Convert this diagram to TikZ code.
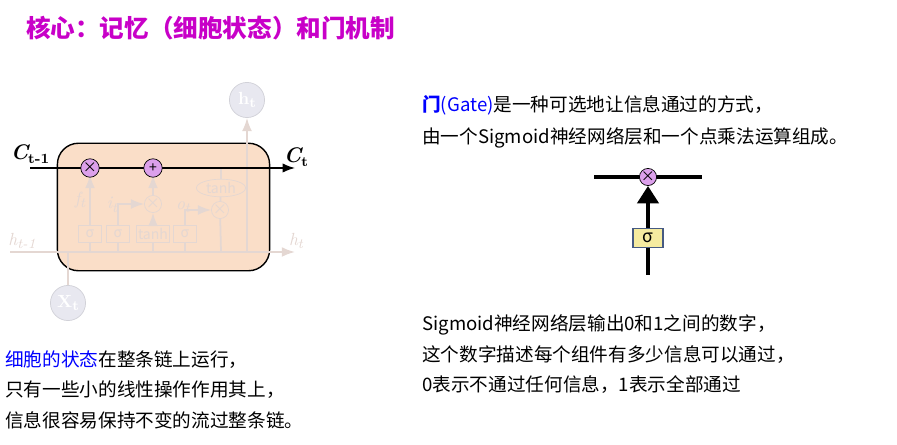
\documentclass[tikz,border=0pt]{standalone}
\usepackage{fontspec}
\setmainfont{Noto Sans CJK SC}
\newfontfamily\lm{Latin Modern Roman}
\usetikzlibrary{arrows.meta,shapes.geometric}
\newcommand{\mysub}[1]{\raisebox{-0.45ex}{\footnotesize #1}}
\definecolor{cellfill}{RGB}{250,222,200}
\definecolor{faint}{RGB}{232,232,240}
\definecolor{faintline}{RGB}{228,215,210}
\definecolor{op}{RGB}{220,160,235}
\definecolor{gatebox}{RGB}{245,235,160}
\definecolor{boxedge}{RGB}{70,90,130}
\definecolor{ttl}{RGB}{200,0,200}
\tikzset{
 txt/.style={anchor=west,inner sep=0pt,font=\fontsize{10.6}{12}\selectfont},
 opc/.style={circle,draw,fill=op,minimum size=10.5pt,inner sep=0pt,font=\fontsize{8}{8}\selectfont},
 faintop/.style={circle,draw=faintline,minimum size=9pt,inner sep=0pt,text=faintline,font=\fontsize{8}{8}\selectfont},
 faintbox/.style={draw=faintline,minimum width=13pt,minimum height=10pt,inner sep=1pt,text=faintline,font=\fontsize{8}{8}\selectfont},
 fl/.style={faintline,line width=1pt},
}
\begin{document}
\begin{tikzpicture}[x=0.02cm,y=-0.02cm]
\useasboundingbox (0,0) rectangle (897,445);
\node[anchor=west,text=ttl,font=\fontsize{14}{16}\selectfont\bfseries] (title) at (20,28) {核心：记忆（细胞状态）和门机制};
% cell
\node[draw,thick,fill=cellfill,rounded corners=12pt,minimum width=213*0.567pt,minimum height=128*0.567pt] (cell) at (163.5,207) {};
\node[circle,fill=faint,draw=faint!90!black,minimum size=20pt,inner sep=0pt,text=white,font=\lm\bfseries] (ht) at (247,100) {h\mysub{t}};
\node[circle,fill=faint,draw=faint!90!black,minimum size=20pt,inner sep=0pt,text=white,font=\lm\bfseries] (xt) at (68,303) {X\mysub{t}};
\coordinate (hl) at (10,252); \coordinate (hr) at (295,252);
\draw[fl,-Latex] (hl) -- (hr);
\node[text=faintline,font=\lm\itshape] (hlab) at (22,241) {h\mysub{t-1}};
\node[text=faintline,font=\lm\itshape] (hrlab) at (296,241) {h\mysub{t}};
\draw[fl] (xt) -- (68,252);
\node[faintbox] (s1) at (90,234) {σ};
\node[faintbox] (s2) at (118,234) {σ};
\node[faintbox] (s3) at (153,234) {tanh};
\node[faintbox] (s4) at (185,234) {σ};
\node[faintop] (m1) at (153,204) {×};
\node[faintop] (m2) at (220,210) {×};
\node[ellipse,draw=faintline,text=faintline,inner sep=0pt,minimum width=28pt,minimum height=10pt,font=\fontsize{8}{8}\selectfont] (th) at (221,188) {tanh};
\draw[fl] (90,252) -- (s1); \draw[fl] (118,252) -- (s2); \draw[fl] (153,252) -- (s3); \draw[fl] (185,252) -- (s4);
\draw[fl,-Latex] (s1) -- (90,175);
\draw[fl,-Latex] (s3) -- (m1); \draw[fl,-Latex] (m1) -- (153,175);
\draw[fl,-Latex] (s2) |- (m1);
\draw[fl,-Latex] (s4) |- (m2);
\draw[fl] (221,168) -- (th); \draw[fl] (th) -- (m2);
\draw[fl] (m2) -- (221,252);
\draw[fl,-Latex] (247,252) -- (ht);
\node[text=faintline,font=\lm\itshape] at (80,200) {f\mysub{t}};
\node[text=faintline,font=\lm\itshape] at (112,205) {i\mysub{t}};
\node[text=faintline,font=\lm\itshape] at (183,207) {o\mysub{t}};
% cell state
\coordinate (cl) at (30,168); \coordinate (cr) at (295,168);
\draw[thick,-{Latex[length=7pt]}] (cl) -- (cr);
\node[opc] (x1) at (90,168) {×};
\node[opc] (p1) at (153,168) {+};
\node[font=\lm\bfseries\itshape\large] (ctm) at (30,154) {C\mysub{\upshape t-1}};
\node[font=\lm\bfseries\itshape\large] (ct) at (296,157) {C\mysub{\upshape t}};
% gate
\coordinate (gl) at (594,177); \coordinate (gr) at (702,177);
\draw[line width=2.5pt] (gl) -- (gr);
\node[opc,minimum size=9pt] (gx) at (648,177) {×};
\node[draw=boxedge,fill=gatebox,thick,minimum width=17pt,minimum height=11pt,inner sep=0pt] (gs) at (648,238) {σ};
\coordinate (gb) at (648,275);
\draw[line width=2.5pt] (gb) -- (gs);
\draw[line width=2.5pt,-{Triangle[length=10pt,width=12pt]}] (gs) -- (gx);
% texts
\node[txt] (r1) at (422,105) {\textcolor{blue}{\bfseries 门}\textcolor{blue}{(Gate)}是一种可选地让信息通过的方式，};
\node[txt] (r2) at (422,138) {由一个Sigmoid神经网络层和一个点乘法运算组成。};
\node[txt] (r3) at (422,325) {Sigmoid神经网络层输出0和1之间的数字，};
\node[txt] (r4) at (422,355) {这个数字描述每个组件有多少信息可以通过，};
\node[txt] (r5) at (422,385) {0表示不通过任何信息，1表示全部通过};
\node[txt] (l1) at (5,360) {\textcolor{blue}{细胞的状态}在整条链上运行，};
\node[txt] (l2) at (5,390) {只有一些小的线性操作作用其上，};
\node[txt] (l3) at (5,420) {信息很容易保持不变的流过整条链。};
\end{tikzpicture}
\end{document}
